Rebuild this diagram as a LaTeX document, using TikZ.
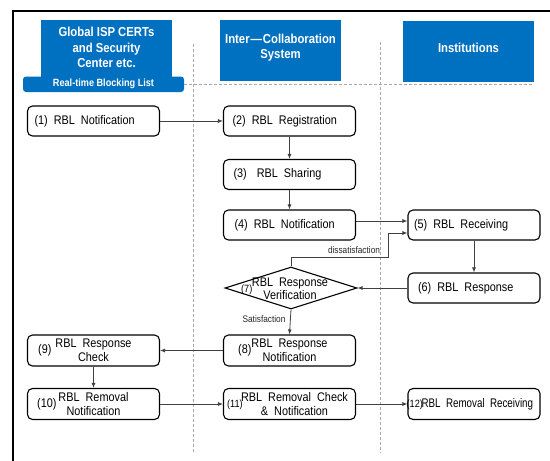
\documentclass[tikz,border=0pt]{standalone}
\usepackage{fontspec}
\setmainfont[FakeStretch=0.87]{Liberation Sans}
\usetikzlibrary{arrows.meta,shapes.geometric}
\definecolor{hdrblue}{HTML}{0070C0}
\definecolor{guide}{HTML}{A8A8A8}
\definecolor{wire}{HTML}{404040}
\newcommand\wgap{\hspace{6pt}}
\begin{document}
\begin{tikzpicture}[x=1pt,y=-1pt,
  header/.style={fill=hdrblue, text=white, font=\fontsize{13}{15.3}\selectfont\bfseries, align=center, inner sep=0pt},
  box/.style={draw=black, line width=1.1pt, rounded corners=5pt, minimum height=30pt, inner ysep=0pt,
    font=\fontsize{12.5}{14}\selectfont, align=left},
  twobox/.style={draw=black, line width=1.1pt, rounded corners=5pt, minimum width=132pt, minimum height=31pt,
    inner sep=0pt, font=\fontsize{12.5}{14}\selectfont, align=center},
  num/.style={font=\fontsize{12.5}{14}\selectfont, inner sep=0pt, anchor=west},
  smallnum/.style={font=\fontsize{10.5}{12}\selectfont, inner sep=0pt, anchor=west},
  small/.style={font=\fontsize{9.5}{11}\selectfont, text=black!85, inner sep=0pt},
  guideline/.style={draw=guide, line width=0.8pt, dash pattern=on 3pt off 2pt},
  arr/.style={draw=wire, line width=0.8pt, -{Latex[length=5pt,width=4pt]}},
]
\useasboundingbox (0,0) rectangle (550,461);
\fill[white] (0,0) rectangle (550,461);

% outer frame (open towards the right and bottom edges)
\draw[line width=2.4pt, line join=miter] (13,462) -- (13,11) -- (551,11);

% swim-lane headers (extra text depth lifts the text a little)
\node[header, minimum width=131pt, minimum height=61pt, text depth=6pt] (h1) at (106.5,50.5)
  {Global ISP CERTs\\and Security\\Center etc.};
\node[header, minimum width=121pt, minimum height=61pt, text depth=8.5pt] (h2) at (280.5,50.5)
  {Inter\kern1pt—\kern1pt Collaboration\\System};
\node[header, minimum width=131pt, minimum height=61pt, text depth=8pt] (h3) at (468.5,51.5)
  {Institutions};
\node[header, rounded corners=3pt, minimum width=161pt, minimum height=15.5pt,
  font=\fontsize{10.5}{12}\selectfont\bfseries] (rbl) at (103.5,84.25) {Real-time Blocking List};

% lane guides
\coordinate (gEnd) at (533,84.25);
\draw[guideline] (rbl.east) -- (gEnd);
\draw[guideline] (193.5,44) -- (193.5,453);
\draw[guideline] (380,42) -- (380,453);

% single-line steps
\node[box, inner xsep=7pt, text width=118pt] (n1) at (93.5,121) {(1)\wgap RBL\wgap Notification};
\node[box, inner xsep=9pt, text width=114pt] (n2) at (289.5,121) {(2)\wgap RBL\wgap Registration};
\node[box, inner xsep=10pt, text width=112pt] (n3) at (289.5,174.5) {(3)\hspace{10pt}RBL\wgap Sharing};
\node[box, inner xsep=11pt, text width=110pt] (n4) at (289.5,225) {(4)\wgap RBL\wgap Notification};
\node[box, inner xsep=6pt, text width=120pt] (n5) at (474,225) {(5)\wgap RBL\wgap Receiving};
\node[box, inner xsep=10pt, text width=112pt] (n6) at (474,288) {(6)\wgap RBL\wgap Response};

% decision
\node[diamond, draw=black, line width=1.1pt, minimum width=132pt, minimum height=42pt, inner sep=0pt] (n7) at (291,288) {};
\node[font=\fontsize{12.5}{13}\selectfont, align=center, inner sep=0pt] (t7) at (290,288.5) {RBL\wgap Response\\Verification};
\node[smallnum] (n7num) at (241,290) {(7)};

% two-line steps
\node[twobox] (n8) at (289.5,350.5) {RBL\wgap Response\\Notification};
\node[num] (n8num) at ([xshift=15pt]n8.west) {(8)};
\node[twobox] (n9) at (93.5,350.5) {RBL\wgap Response\\Check};
\node[num] (n9num) at ([xshift=11pt]n9.west) {(9)};
\node[twobox] (n10) at (93.5,404) {RBL\wgap Removal\\Notification};
\node[num] (n10num) at ([xshift=10pt]n10.west) {(10)};
\node[twobox] (n11) at (289.5,404) {\hspace*{10pt}RBL\wgap Removal\wgap Check\\\hspace*{10pt}\&\wgap Notification};
\node[smallnum] (n11num) at ([xshift=4pt,yshift=-1pt]n11.west) {(11)};
\node[twobox] (n12) at (474,404) {};
\node[smallnum] (n12num) at ([xshift=-1pt,yshift=-1pt]n12.west) {(12)};
\node[num] (t12) at ([xshift=14pt]n12.west)
  {\scalebox{0.9}[1]{RBL\wgap Removal\wgap Receiving}};

% flow
\draw[arr] (n1) -- (n2);
\draw[arr] (n2) -- (n3);
\draw[arr] (n3) -- (n4);
\draw[arr] ([yshift=4pt]n4.east) -- ([yshift=4pt]n5.west);
\draw[arr] (n5) -- (n6);
\draw[arr] (n6.west) -- (n7.east);
\coordinate (dTurn) at (388,257);
\draw[arr] (n7.north) |- (dTurn) |- ([yshift=-8pt]n5.west);
\node[small] (lblD) at (354,250) {dissatisfaction};
\draw[arr] (n7.south) -- (n8.north);
\node[small] (lblS) at (264,319) {Satisfaction};
\draw[arr] (n8) -- (n9);
\draw[arr] (n9) -- (n10);
\draw[arr] (n10) -- (n11);
\draw[arr] (n11) -- (n12);
\end{tikzpicture}
\end{document}
